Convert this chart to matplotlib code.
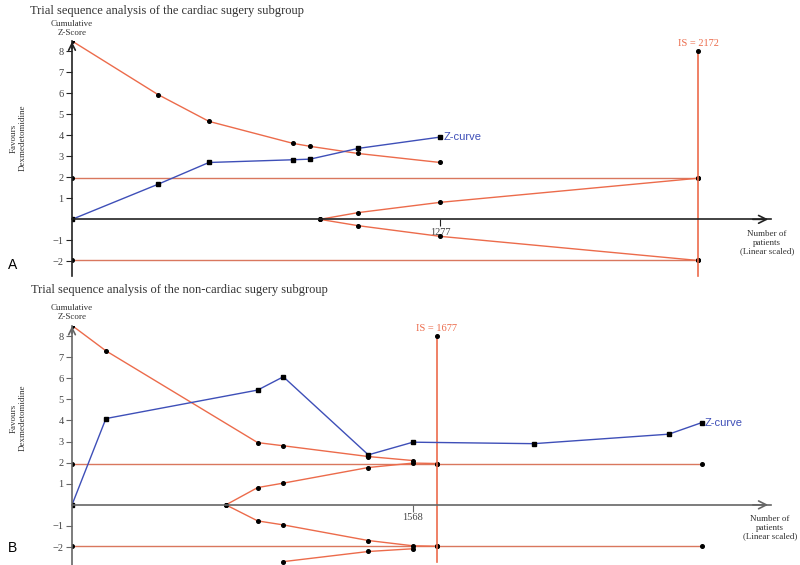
import matplotlib
matplotlib.use("Agg")
import matplotlib.pyplot as plt

# ---- panel A: cardiac surgery subgroup ----
a_z_n = [0, 298, 475, 767, 826, 992, 1277]
a_z = [0, 1.67, 2.71, 2.84, 2.87, 3.38, 3.92]
a_upper_n = [0, 298, 475, 767, 826, 992, 1277]
a_upper = [8.5, 5.95, 4.67, 3.62, 3.48, 3.14, 2.71]
a_inner_n = [860, 992, 1277, 2172]
a_inner_up = [0, 0.32, 0.81, 1.96]
a_inner_lo = [0, -0.30, -0.81, -1.96]
a_is = 2172
a_tick = 1277

# ---- panel B: non-cardiac surgery subgroup ----
b_z_n = [0, 156, 854, 972, 1363, 1568, 2124, 2745, 2897]
b_z = [0, 4.09, 5.44, 6.07, 2.37, 2.97, 2.90, 3.35, 3.90]
b_upper_n = [0, 156, 854, 972, 1363, 1568]
b_upper = [8.5, 7.3, 2.95, 2.80, 2.29, 2.10]
b_lower_n = [972, 1363, 1568]
b_lower = [-2.69, -2.21, -2.08]
b_inner_n = [708, 854, 972, 1363, 1568, 1677]
b_inner_up = [0, 0.82, 1.03, 1.77, 1.98, 1.96]
b_inner_lo = [0, -0.76, -0.95, -1.69, -1.94, -1.96]
b_is = 1677
b_tick = 1568
b_last = 2897

RED = "#EC6B4B"
RED2 = "#D9775E"
BLUE = "#3E4FB8"
SERIF = "Liberation Serif"
SANS = "Liberation Sans"

fig = plt.figure(figsize=(8, 5.65), dpi=100)


def panel(ax, xmax, ymin, axis_col):
    ax.set_xlim(0, xmax)
    ax.set_ylim(ymin, 8.5)
    for s in ["top", "right"]:
        ax.spines[s].set_visible(False)
    ax.spines["bottom"].set_position(("data", 0))
    ax.spines["bottom"].set_color(axis_col)
    ax.spines["left"].set_color(axis_col)
    ax.spines["left"].set_linewidth(1.2)
    ax.spines["bottom"].set_linewidth(1.2)
    ax.set_yticks([-2, -1, 1, 2, 3, 4, 5, 6, 7, 8])
    ax.tick_params(axis="y", direction="out", length=4, pad=2, labelsize=7.5,
                   labelcolor="#444", color=axis_col)
    ax.tick_params(axis="x", direction="out", length=5, pad=1, labelsize=7.5,
                   labelcolor="#444", color=axis_col)
    for lab in ax.get_yticklabels() + ax.get_xticklabels():
        lab.set_family(SERIF)
    ax.patch.set_alpha(0)
    ax.annotate("", xy=(xmax, 0), xytext=(xmax * 0.97, 0),
                arrowprops=dict(arrowstyle="->", color=axis_col, lw=1.2,
                                mutation_scale=14), annotation_clip=False)
    ax.annotate("", xy=(0, 8.6), xytext=(0, 8.0),
                arrowprops=dict(arrowstyle="->", color=axis_col, lw=1.2,
                                mutation_scale=12), annotation_clip=False)


dot = dict(marker="o", ms=2.6, mfc="black", mec="black")
sq = dict(marker="s", ms=3.4, mfc="black", mec="black")

# panel A
axA = fig.add_axes([72 / 800, 1 - 276 / 565, 699 / 800, 235 / 565])
panel(axA, 2425, -2.7, "#222222")
axA.set_xticks([a_tick])
axA.set_xticklabels([str(a_tick)])
axA.plot([0, a_is], [1.96, 1.96], color=RED2, lw=1.0, **dot)
axA.plot([0, a_is], [-1.96, -1.96], color=RED2, lw=1.0, **dot)
axA.plot(a_upper_n, a_upper, color=RED, lw=1.0, **dot)
axA.plot(a_inner_n, a_inner_up, color=RED, lw=1.0, **dot)
axA.plot(a_inner_n, a_inner_lo, color=RED, lw=1.0, **dot)
axA.plot([a_is, a_is], [8, -2.7], color=RED, lw=1.2, clip_on=False)
axA.plot([a_is], [8], ls="none", **dot)
axA.plot(a_z_n, a_z, color=BLUE, lw=1.0, **sq)
axA.text(a_z_n[-1] + 12, a_z[-1], "Z-curve", color=BLUE, family=SANS,
         fontsize=8, va="center")
axA.text(a_is, 8.15, "IS = %d" % a_is, color=RED, family=SERIF, fontsize=7.5,
         ha="center", va="bottom")

# panel B
axB = fig.add_axes([72 / 800, 0, 699 / 800, 239.5 / 565])
panel(axB, 3215, -2.85, "#666666")
axB.set_xticks([b_tick])
axB.set_xticklabels([str(b_tick)])
axB.plot([0, b_is, b_last], [1.96] * 3, color=RED2, lw=1.0, **dot)
axB.plot([0, b_is, b_last], [-1.96] * 3, color=RED2, lw=1.0, **dot)
axB.plot(b_upper_n, b_upper, color=RED, lw=1.0, **dot)
axB.plot(b_lower_n, b_lower, color=RED, lw=1.0, **dot)
axB.plot(b_inner_n, b_inner_up, color=RED, lw=1.0, **dot)
axB.plot(b_inner_n, b_inner_lo, color=RED, lw=1.0, **dot)
axB.plot([b_is, b_is], [8, -2.7], color=RED, lw=1.2)
axB.plot([b_is], [8], ls="none", **dot)
axB.plot(b_z_n, b_z, color=BLUE, lw=1.0, **sq)
axB.text(b_z_n[-1] + 15, b_z[-1], "Z-curve", color=BLUE, family=SANS,
         fontsize=8, va="center")
axB.text(b_is, 8.15, "IS = %d" % b_is, color=RED, family=SERIF, fontsize=7.5,
         ha="center", va="bottom")

# text around the panels
fig.text(30 / 800, 1 - 11 / 565, "Trial sequence analysis of the cardiac sugery subgroup",
         family=SERIF, fontsize=9, color="#333", va="center")
fig.text(31 / 800, 1 - 290 / 565, "Trial sequence analysis of the non-cardiac sugery subgroup",
         family=SERIF, fontsize=9, color="#333", va="center")
for yc in [28.5, 312.5]:
    fig.text(72 / 800, 1 - yc / 565, "Cumulative\nZ-Score", family=SERIF,
             fontsize=6.5, color="#333", ha="center", va="center", linespacing=1.1)
for yc in [138, 418]:
    fig.text(18 / 800, 1 - yc / 565, "Favours\nDexmedetomidine", family=SERIF,
             fontsize=6.5, color="#333", ha="center", va="center",
             rotation=90, linespacing=1.1)
for xc, yc in [(767, 243), (770, 528)]:
    fig.text(xc / 800, 1 - yc / 565, "Number of\npatients\n(Linear scaled)",
             family=SERIF, fontsize=6.5, color="#333", ha="center", va="center",
             linespacing=1.1)
fig.text(8 / 800, 1 - 265 / 565, "A", family=SANS, fontsize=10, va="center")
fig.text(8 / 800, 1 - 548 / 565, "B", family=SANS, fontsize=10, va="center")

fig.savefig("out.png", dpi=100)
